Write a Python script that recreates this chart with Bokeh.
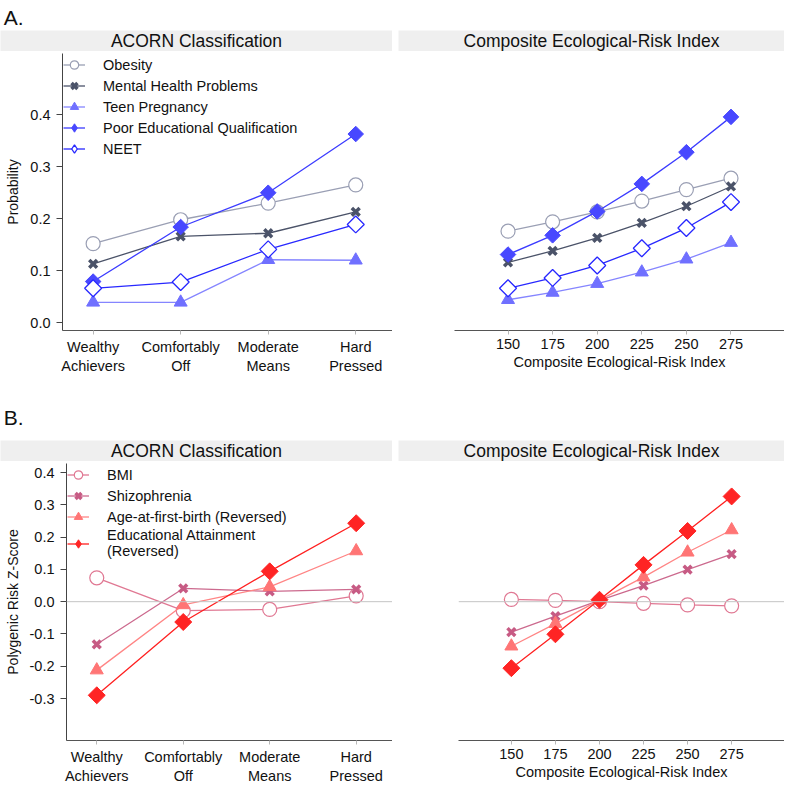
import math
from bokeh.plotting import figure
from bokeh.layouts import column, row
from bokeh.models import FixedTicker, PrintfTickFormatter, Legend, LegendItem, Span, Range1d
from bokeh.core.properties import value
from bokeh.embed import file_html
from bokeh.resources import INLINE

FONT = "Liberation Sans"

# ---------------- data ----------------
acorn_labels = ["Wealthy\nAchievers", "Comfortably\nOff", "Moderate\nMeans", "Hard\nPressed"]
ceri_values = [150, 175, 200, 225, 250, 275]

a_names = ["Obesity", "Mental Health Problems", "Teen Pregnancy",
           "Poor Educational Qualification", "NEET"]
a_acorn_obesity = [0.152, 0.198, 0.230, 0.265]
a_acorn_mental = [0.113, 0.166, 0.172, 0.213]
a_acorn_teen = [0.039, 0.039, 0.121, 0.120]
a_acorn_educ = [0.079, 0.184, 0.250, 0.363]
a_acorn_neet = [0.066, 0.078, 0.141, 0.189]

a_ceri_obesity = [0.176, 0.194, 0.213, 0.234, 0.256, 0.278]
a_ceri_mental = [0.116, 0.138, 0.163, 0.192, 0.224, 0.262]
a_ceri_teen = [0.044, 0.058, 0.075, 0.097, 0.122, 0.154]
a_ceri_educ = [0.131, 0.168, 0.214, 0.267, 0.328, 0.396]
a_ceri_neet = [0.066, 0.086, 0.110, 0.143, 0.182, 0.232]

b_names = ["BMI", "Shizophrenia", "Age-at-first-birth (Reversed)",
           "Educational Attainment\n(Reversed)"]
b_acorn_bmi = [0.074, -0.028, -0.024, 0.018]
b_acorn_scz = [-0.132, 0.041, 0.032, 0.038]
b_acorn_afb = [-0.212, -0.010, 0.046, 0.157]
b_acorn_edu = [-0.290, -0.063, 0.094, 0.243]

b_ceri_bmi = [0.007, 0.004, 0.000, -0.005, -0.010, -0.013]
b_ceri_scz = [-0.094, -0.045, 0.004, 0.050, 0.099, 0.147]
b_ceri_afb = [-0.138, -0.068, 0.005, 0.076, 0.153, 0.222]
b_ceri_edu = [-0.206, -0.101, 0.006, 0.114, 0.219, 0.326]

a_yticks = [0.0, 0.1, 0.2, 0.3, 0.4]
b_yticks = [-0.3, -0.2, -0.1, 0.0, 0.1, 0.2, 0.3, 0.4]

# ---------------- styles ----------------
D = math.pi / 4
a_styles = [
    dict(marker="circle", size=14, angle=0, fill="white", edge="#9a9fb4", lw=1.2, line="#9a9fb4"),
    dict(marker="x", size=11, angle=0, fill=None, edge="#4b5369", lw=3.5, line="#4b5369"),
    dict(marker="triangle", size=13, angle=0, fill="#7070ff", edge="#7070ff", lw=1, line="#8585ff"),
    dict(marker="square", size=11, angle=D, fill="#4848ff", edge="#4848ff", lw=1, line="#3c3cff"),
    dict(marker="square", size=12, angle=D, fill="white", edge="#2828ff", lw=1.3, line="#2828ff"),
]
b_styles = [
    dict(marker="circle", size=14, angle=0, fill="white", edge="#e07893", lw=1.2, line="#e07893"),
    dict(marker="x", size=11, angle=0, fill=None, edge="#c75b84", lw=3.5, line="#cc6a8e"),
    dict(marker="triangle", size=13, angle=0, fill="#ff7575", edge="#ff7575", lw=1, line="#ff8585"),
    dict(marker="square", size=12, angle=D, fill="#ff2424", edge="#ff2424", lw=1, line="#ff2020"),
]

acorn_pos = list(range(1, len(acorn_labels) + 1))
acorn_over = {i: lab for i, lab in zip(acorn_pos, acorn_labels)}
NAN = float("nan")


def panel(xs, series, styles, names, x_rng, y_rng, y_ticks, y_label, x_ticks, x_over,
          x_label, legend, zero, border_left, frame_w, frame_h, border_bottom):
    p = figure(frame_width=frame_w, frame_height=frame_h,
               x_range=Range1d(*x_rng), y_range=Range1d(*y_rng),
               toolbar_location=None, output_backend="svg",
               min_border_left=border_left, min_border_right=0, min_border_top=2,
               min_border_bottom=border_bottom, outline_line_color=None,
               background_fill_color="white", border_fill_color="white")
    p.xgrid.visible = False
    p.ygrid.visible = False
    if zero:
        p.add_layout(Span(location=0, dimension="width", line_color="#c4c4c4", line_width=1))
    items = []
    for ys, st, nm in zip(series, styles, names):
        lr = p.line(xs, ys, line_color=st["line"], line_width=1.3)
        sr = p.scatter(xs, ys, marker=st["marker"], size=st["size"], angle=st["angle"],
                       fill_color=st["fill"], line_color=st["edge"], line_width=st["lw"])
        if st["angle"]:
            # legend glyphs are drawn unrotated: use a diamond-shaped stand-in for the key
            key = p.scatter([NAN], [NAN], marker="diamond", size=st["size"],
                            fill_color=st["fill"], line_color=st["edge"], line_width=st["lw"])
            items.append(LegendItem(label=nm, renderers=[lr, key]))
        else:
            items.append(LegendItem(label=nm, renderers=[lr, sr]))

    xa = p.xaxis[0]
    xa.ticker = FixedTicker(ticks=x_ticks)
    if x_over:
        xa.major_label_overrides = x_over
    xa.axis_line_color = "#555555"
    xa.major_tick_line_color = "#b8b8b8"
    xa.major_tick_out = 4
    xa.major_tick_in = 0
    xa.minor_tick_line_color = None
    xa.major_label_text_font = FONT
    xa.major_label_text_font_size = "14.5px"
    xa.major_label_text_color = "#111111"
    xa.major_label_standoff = 4
    if x_label:
        xa.axis_label = x_label
        xa.axis_label_text_font = FONT
        xa.axis_label_text_font_size = "14.5px"
        xa.axis_label_text_font_style = "normal"
        xa.axis_label_text_color = "#111111"
        xa.axis_label_standoff = 2

    ya = p.yaxis[0]
    if y_ticks is None:
        ya.visible = False
    else:
        ya.ticker = FixedTicker(ticks=y_ticks)
        ya.formatter = PrintfTickFormatter(format="%.1f")
        ya.axis_line_color = "#444444"
        ya.major_tick_line_color = "#444444"
        ya.major_tick_out = 6
        ya.major_tick_in = 0
        ya.minor_tick_line_color = None
        ya.major_label_text_font = FONT
        ya.major_label_text_font_size = "14.5px"
        ya.major_label_text_color = "#111111"
        ya.major_label_standoff = 6
        ya.axis_label = y_label
        ya.axis_label_text_font = FONT
        ya.axis_label_text_font_size = "14px"
        ya.axis_label_text_font_style = "normal"
        ya.axis_label_text_color = "#111111"
        ya.axis_label_standoff = 6

    if legend:
        lg = Legend(items=items, location="top_left", border_line_color=None,
                    background_fill_alpha=0, label_text_font=FONT,
                    label_text_font_size="14.5px", label_text_color="#111111",
                    glyph_width=22, glyph_height=21, spacing=0, padding=9, margin=1,
                    label_standoff=18, label_height=20)
        p.add_layout(lg)
    return p


def strip(txt, width, gap):
    s = figure(frame_width=width - gap, frame_height=21, x_range=Range1d(0, 1),
               y_range=Range1d(0, 1), toolbar_location=None, output_backend="svg",
               x_axis_location=None, y_axis_location=None,
               min_border_left=gap, min_border_right=0, min_border_top=0, min_border_bottom=0,
               outline_line_color=None, background_fill_color="#efefef",
               border_fill_color="white")
    s.grid.visible = False
    s.text(x=[0.5], y=[0.5], text=[txt], text_align="center", text_baseline="middle",
           text_font=value(FONT), text_font_size="17.5px", text_color="#111111")
    return s


def header(txt, width, height, base):
    h = figure(frame_width=width, frame_height=height, x_range=Range1d(0, 1),
               y_range=Range1d(0, 1), toolbar_location=None, output_backend="svg",
               x_axis_location=None, y_axis_location=None,
               min_border_left=0, min_border_right=0, min_border_top=0, min_border_bottom=0,
               outline_line_color=None, background_fill_color="white",
               border_fill_color="white")
    h.grid.visible = False
    h.text(x=[0.004], y=[base], text=[txt], text_align="left", text_baseline="bottom",
           text_font=value(FONT), text_font_size="21px", text_color="#111111")
    return h


FH = 277
A_Y = (-0.0152, 0.518)
B_Y = (-0.43, 0.428)
X_AC = (0.65, 4.42)
X_CE = (120.0, 305.0)

pa1 = panel(acorn_pos, [a_acorn_obesity, a_acorn_mental, a_acorn_teen, a_acorn_educ, a_acorn_neet],
            a_styles, a_names, X_AC, A_Y, a_yticks, "Probability", acorn_pos, acorn_over,
            None, True, False, 62, 330, FH, 44)
pa2 = panel(ceri_values, [a_ceri_obesity, a_ceri_mental, a_ceri_teen, a_ceri_educ, a_ceri_neet],
            a_styles, a_names, X_CE, A_Y, None, None, ceri_values, None,
            "Composite Ecological-Risk Index", False, False, 62, 330, FH, 44)
pb1 = panel(acorn_pos, [b_acorn_bmi, b_acorn_scz, b_acorn_afb, b_acorn_edu],
            b_styles, b_names, X_AC, B_Y, b_yticks, "Polygenic Risk Z-Score", acorn_pos, acorn_over,
            None, True, True, 66, 326, FH, 40)
pb2 = panel(ceri_values, [b_ceri_bmi, b_ceri_scz, b_ceri_afb, b_ceri_edu],
            b_styles, b_names, X_CE, B_Y, None, None, ceri_values, None,
            "Composite Ecological-Risk Index", False, True, 66, 326, FH, 40)

layout = column(
    header("A.", 784, 30, 0.04),
    row(strip("ACORN Classification", 392, 0), strip("Composite Ecological-Risk Index", 392, 6)),
    row(pa1, pa2),
    header("B.", 784, 64, 0.18),
    row(strip("ACORN Classification", 392, 0), strip("Composite Ecological-Risk Index", 392, 6)),
    row(pb1, pb2),
)

open("out.html", "w").write(file_html(layout, INLINE))
